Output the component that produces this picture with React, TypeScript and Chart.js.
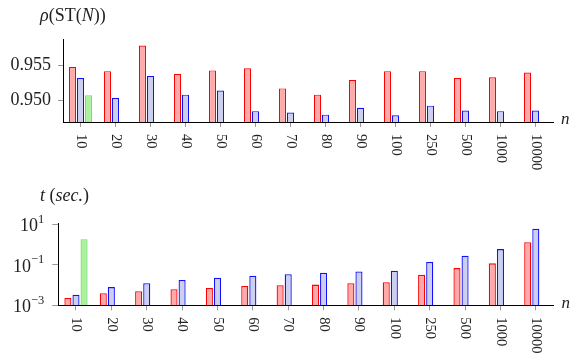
import React, { useEffect, useRef } from 'react';
import { Chart, registerables } from 'chart.js';

Chart.register(...registerables);

const categories = ['10', '20', '30', '40', '50', '60', '70', '80', '90', '100', '250', '500', '1000', '10000'];

const rhoRed = [0.9548, 0.9542, 0.9579, 0.9538, 0.9543, 0.9546, 0.9517, 0.9508, 0.9529, 0.9542, 0.9542, 0.9532, 0.9533, 0.9540];
const rhoBlue = [0.9532, 0.9503, 0.9535, 0.9508, 0.9514, 0.9484, 0.9482, 0.9479, 0.9489, 0.9478, 0.9492, 0.9485, 0.9484, 0.9485];
const rhoGreen = [0.9507, null, null, null, null, null, null, null, null, null, null, null, null, null];

const timeRed = [0.0023, 0.0039, 0.0049, 0.0062, 0.0071, 0.0089, 0.0098, 0.0105, 0.0123, 0.0138, 0.032, 0.068, 0.117, 1.29];
const timeBlue = [0.0033, 0.0079, 0.0123, 0.0178, 0.0229, 0.0288, 0.034, 0.04, 0.046, 0.051, 0.138, 0.28, 0.59, 5.9];
const timeGreen = [1.8, null, null, null, null, null, null, null, null, null, null, null, null, null];

const rhoTicks = [0.95, 0.955];
const timeTicks = [1e-3, 1e-1, 1e1];

const serif = "'Liberation Serif', 'DejaVu Serif', serif";
const RED = '#ff0000';
const RED_FILL = '#ffaaaa';
const BLUE = '#1010ff';
const BLUE_FILL = '#ccd0ee';
const GREEN = '#74e062';
const GREEN_FILL = '#a8f29c';
const TEXT = '#222';

type Part = [string, boolean];

function drawRich(ctx: CanvasRenderingContext2D, parts: Part[], x: number, y: number, size: number) {
  let cx = x;
  for (const [t, it] of parts) {
    ctx.font = `${it ? 'italic ' : ''}${size}px ${serif}`;
    ctx.fillText(t, cx, y);
    cx += ctx.measureText(t).width;
  }
}

function makeTextPlugin(title: Part[], titleY: number, logLabels: boolean) {
  return {
    id: 'customText',
    afterDraw(chart: any) {
      const ctx: CanvasRenderingContext2D = chart.ctx;
      const xs = chart.scales.x;
      const ys = chart.scales.y;
      const area = chart.chartArea;
      ctx.save();
      ctx.fillStyle = TEXT;
      ctx.textBaseline = 'middle';
      ctx.textAlign = 'left';
      drawRich(ctx, title, 40, titleY, 18);
      ctx.font = `italic 17px ${serif}`;
      ctx.fillText('n', area.right + 8, area.bottom - 2);
      ctx.font = `14.5px ${serif}`;
      categories.forEach((c, i) => {
        const px = xs.getPixelForTick(i);
        ctx.save();
        ctx.translate(px, area.bottom + 12);
        ctx.rotate(Math.PI / 2);
        ctx.textBaseline = 'middle';
        ctx.fillText(c, 0, 0);
        ctx.restore();
      });
      if (logLabels) {
        ctx.textBaseline = 'alphabetic';
        ys.ticks.forEach((t: any) => {
          const py = ys.getPixelForValue(t.value);
          const e = Math.round(Math.log10(t.value));
          const es = e < 0 ? '\u2212' + String(-e) : String(e);
          ctx.font = `12.5px ${serif}`;
          const ew = ctx.measureText(es).width;
          ctx.font = `18px ${serif}`;
          const bw = ctx.measureText('10').width;
          const right = area.left - 14;
          ctx.fillText('10', right - ew - bw, py + 7);
          ctx.font = `12.5px ${serif}`;
          ctx.fillText(es, right - ew, py - 1.5);
        });
      }
      ctx.restore();
    },
  };
}

function datasets(red: (number | null)[], blue: (number | null)[], green: (number | null)[], bw: number) {
  return [
    { data: red, backgroundColor: RED_FILL, borderColor: RED, borderWidth: bw },
    { data: blue, backgroundColor: BLUE_FILL, borderColor: BLUE, borderWidth: bw },
    { data: green, backgroundColor: GREEN_FILL, borderColor: GREEN, borderWidth: bw },
  ];
}

const xScale = (height: number) => ({
  grid: { offset: false, drawOnChartArea: false, drawTicks: true, tickLength: 5, color: '#999' },
  border: { color: '#000', width: 1 },
  ticks: { display: false },
  afterFit: (s: any) => {
    s.height = height;
  },
});

export default function App() {
  const topRef = useRef<HTMLCanvasElement>(null);
  const botRef = useRef<HTMLCanvasElement>(null);

  useEffect(() => {
    const common = {
      animation: false as const,
      responsive: false,
      devicePixelRatio: 1,
      datasets: { bar: { categoryPercentage: 24 / 35, barPercentage: 0.875 } },
      plugins: { legend: { display: false }, tooltip: { enabled: false }, title: { display: false } },
    };

    const top = new Chart(topRef.current!, {
      type: 'bar',
      data: { labels: categories, datasets: datasets(rhoRed, rhoBlue, rhoGreen, 1.15) as any },
      options: {
        ...common,
        layout: { padding: { top: 39, right: 17, left: 0, bottom: 0 } },
        scales: {
          x: xScale(56) as any,
          y: {
            min: 0.94684,
            max: 0.95885,
            afterBuildTicks: (s: any) => {
              s.ticks = rhoTicks.map((v) => ({ value: v }));
            },
            ticks: {
              callback: (v: any) => Number(v).toFixed(3),
              font: { family: serif, size: 18 },
              color: TEXT,
              padding: 7,
            },
            grid: { drawOnChartArea: false, tickLength: 5, color: '#999' },
            border: { color: '#000', width: 1 },
            afterFit: (s: any) => {
              s.width = 63;
            },
          },
        },
      },
      plugins: [makeTextPlugin([['ρ', true], ['(ST(', false], ['N', true], ['))', false]], 16, false)],
    } as any);

    const bot = new Chart(botRef.current!, {
      type: 'bar',
      data: { labels: categories, datasets: datasets(timeRed, timeBlue, timeGreen, 1.3) as any },
      options: {
        ...common,
        layout: { padding: { top: 45.3, right: 16.5, left: 0, bottom: 0 } },
        scales: {
          x: xScale(50.7) as any,
          y: {
            type: 'logarithmic',
            min: 1e-3,
            max: 11,
            afterBuildTicks: (s: any) => {
              s.ticks = timeTicks.map((v) => ({ value: v }));
            },
            ticks: { display: false },
            grid: { drawOnChartArea: false, tickLength: 6, color: '#999' },
            border: { color: '#000', width: 1 },
            afterFit: (s: any) => {
              s.width = 58.3;
            },
          },
        },
      },
      plugins: [makeTextPlugin([['t', true], [' (', false], ['sec.', true], [')', false]], 18.5, true)],
    } as any);

    return () => {
      top.destroy();
      bot.destroy();
    };
  }, []);

  return (
    <div style={{ position: 'fixed', left: 0, top: 0, width: 570, height: 356, background: '#fff' }}>
      <canvas ref={topRef} width={570} height={178} style={{ display: 'block', position: 'absolute', left: 0, top: 0 }} />
      <canvas ref={botRef} width={570} height={178} style={{ display: 'block', position: 'absolute', left: 0, top: 178 }} />
    </div>
  );
}
